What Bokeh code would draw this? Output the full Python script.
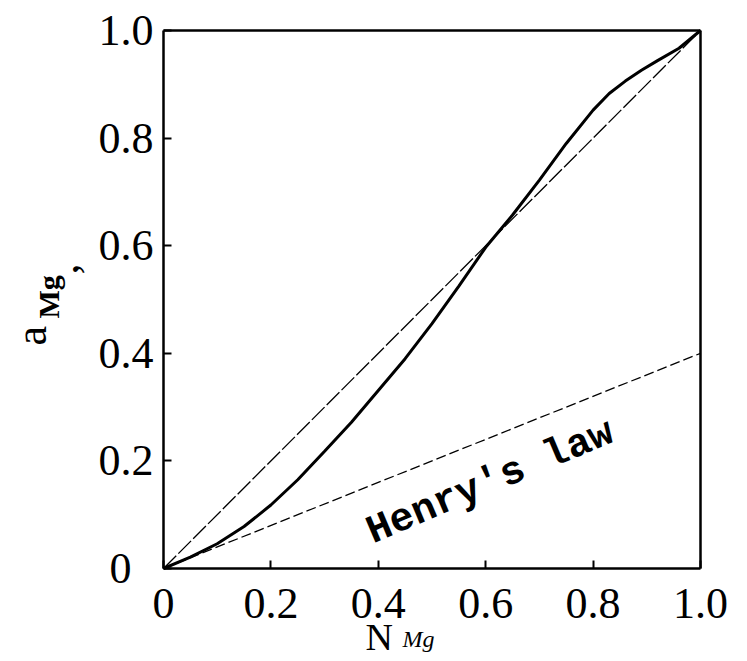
from bokeh.plotting import figure
from bokeh.models import Range1d, FixedTicker, Label, LinearAxis
from bokeh.embed import file_html
from bokeh.resources import INLINE

# ---- data ----
n_mg = [0.0, 0.05, 0.10, 0.15, 0.20, 0.25, 0.30, 0.35, 0.40, 0.45, 0.50,
        0.55, 0.60, 0.65, 0.70, 0.75, 0.80, 0.83, 0.86, 0.89, 0.92, 0.96, 1.0]
a_mg = [0.0, 0.021, 0.046, 0.078, 0.118, 0.165, 0.218, 0.272, 0.331, 0.390, 0.455,
        0.525, 0.597, 0.657, 0.722, 0.790, 0.852, 0.883, 0.906, 0.926, 0.944, 0.967, 1.0]

raoult_x = [0.0, 1.0]
raoult_y = [0.0, 1.0]

henry_x = [0.0, 1.0]
henry_y = [0.0, 0.40]

tick_values = [0.0, 0.2, 0.4, 0.6, 0.8, 1.0]
tick_labels = ["0", "0.2", "0.4", "0.6", "0.8", "1.0"]

# ---- figure: the frame fills the canvas, axes pinned at the data edges ----
W, H = 747, 661
FL, FR, FT, FB = 163, 700, 30, 568          # where 0..1 falls on the canvas
sx = (FR - FL)
sy = (FB - FT)
x_range = Range1d(-FL / sx, (W - FL) / sx)
y_range = Range1d(-(H - FB) / sy, FB / sy)

p = figure(width=W, height=H, x_range=x_range, y_range=y_range,
           output_backend="svg", toolbar_location=None, min_border=0)

p.grid.visible = False
p.outline_line_color = None
p.background_fill_color = "white"
p.border_fill_color = "white"

x_overrides = {v: t for v, t in zip(tick_values, tick_labels)}
y_overrides = dict(x_overrides)
y_overrides[tick_values[0]] = tick_labels[0] + "\u2007"   # the y "0" sits further left

for ax, ov in ((p.xaxis[0], x_overrides), (p.yaxis[0], y_overrides)):
    ax.fixed_location = 0
    ax.bounds = (0, 1)
    ax.ticker = FixedTicker(ticks=tick_values)
    ax.major_label_overrides = ov
    ax.major_tick_in = 8
    ax.major_tick_out = 0
    ax.minor_tick_in = 0
    ax.minor_tick_out = 0
    ax.major_tick_line_width = 2
    ax.major_tick_line_color = "black"
    ax.axis_line_width = 2.5
    ax.axis_line_color = "black"
    ax.major_label_text_font = "Liberation Serif"
    ax.major_label_text_font_size = "44px"
    ax.major_label_text_color = "black"

p.xaxis[0].major_label_standoff = 20
p.yaxis[0].major_label_standoff = 10

# top and right edges of the box
for side in ("above", "right"):
    edge = LinearAxis(fixed_location=1, bounds=(0, 1),
                      ticker=FixedTicker(ticks=[]),
                      major_tick_in=0, major_tick_out=0,
                      minor_tick_in=0, minor_tick_out=0,
                      major_label_text_color=None,
                      axis_line_width=2.5, axis_line_color="black")
    p.add_layout(edge, side)

# curves
p.line(raoult_x, raoult_y, line_color="black", line_width=1.3, line_dash="18 3")
p.line(henry_x, henry_y, line_color="black", line_width=1.3, line_dash="10 4")
p.line(n_mg, a_mg, line_color="black", line_width=3)

# Henry's law label
p.add_layout(Label(x=0.3825, y=0.0646, text="Henry's law", angle=0.40,
                   text_font="Liberation Mono", text_font_style="bold",
                   text_font_size="40px", text_align="left",
                   text_baseline="alphabetic", text_color="black"))

# x axis title  N_Mg
p.add_layout(Label(x=0.376, y=-0.1265, text="N", text_font="Liberation Serif",
                   text_font_size="38px", text_align="left",
                   text_baseline="alphabetic", text_color="black"))
p.add_layout(Label(x=0.445, y=-0.1302, text="Mg", text_font="Liberation Serif",
                   text_font_style="italic", text_font_size="24px",
                   text_align="left", text_baseline="alphabetic",
                   text_color="black"))

# y axis title  a_Mg ,
p.add_layout(Label(x=-0.2457, y=0.4145, text="a", angle=90, angle_units="deg",
                   text_font="Liberation Serif", text_font_size="44px",
                   text_align="left", text_baseline="alphabetic",
                   text_color="black"))
p.add_layout(Label(x=-0.214, y=0.4647, text="Mg", angle=90, angle_units="deg",
                   text_font="Liberation Serif", text_font_style="bold",
                   text_font_size="30px", text_align="left",
                   text_baseline="alphabetic", text_color="black"))
p.add_layout(Label(x=-0.186, y=0.5465, text=",", angle=90, angle_units="deg",
                   text_font="Liberation Serif", text_font_size="44px",
                   text_align="left", text_baseline="alphabetic",
                   text_color="black"))

open("out.html", "w").write(file_html(p, INLINE))
